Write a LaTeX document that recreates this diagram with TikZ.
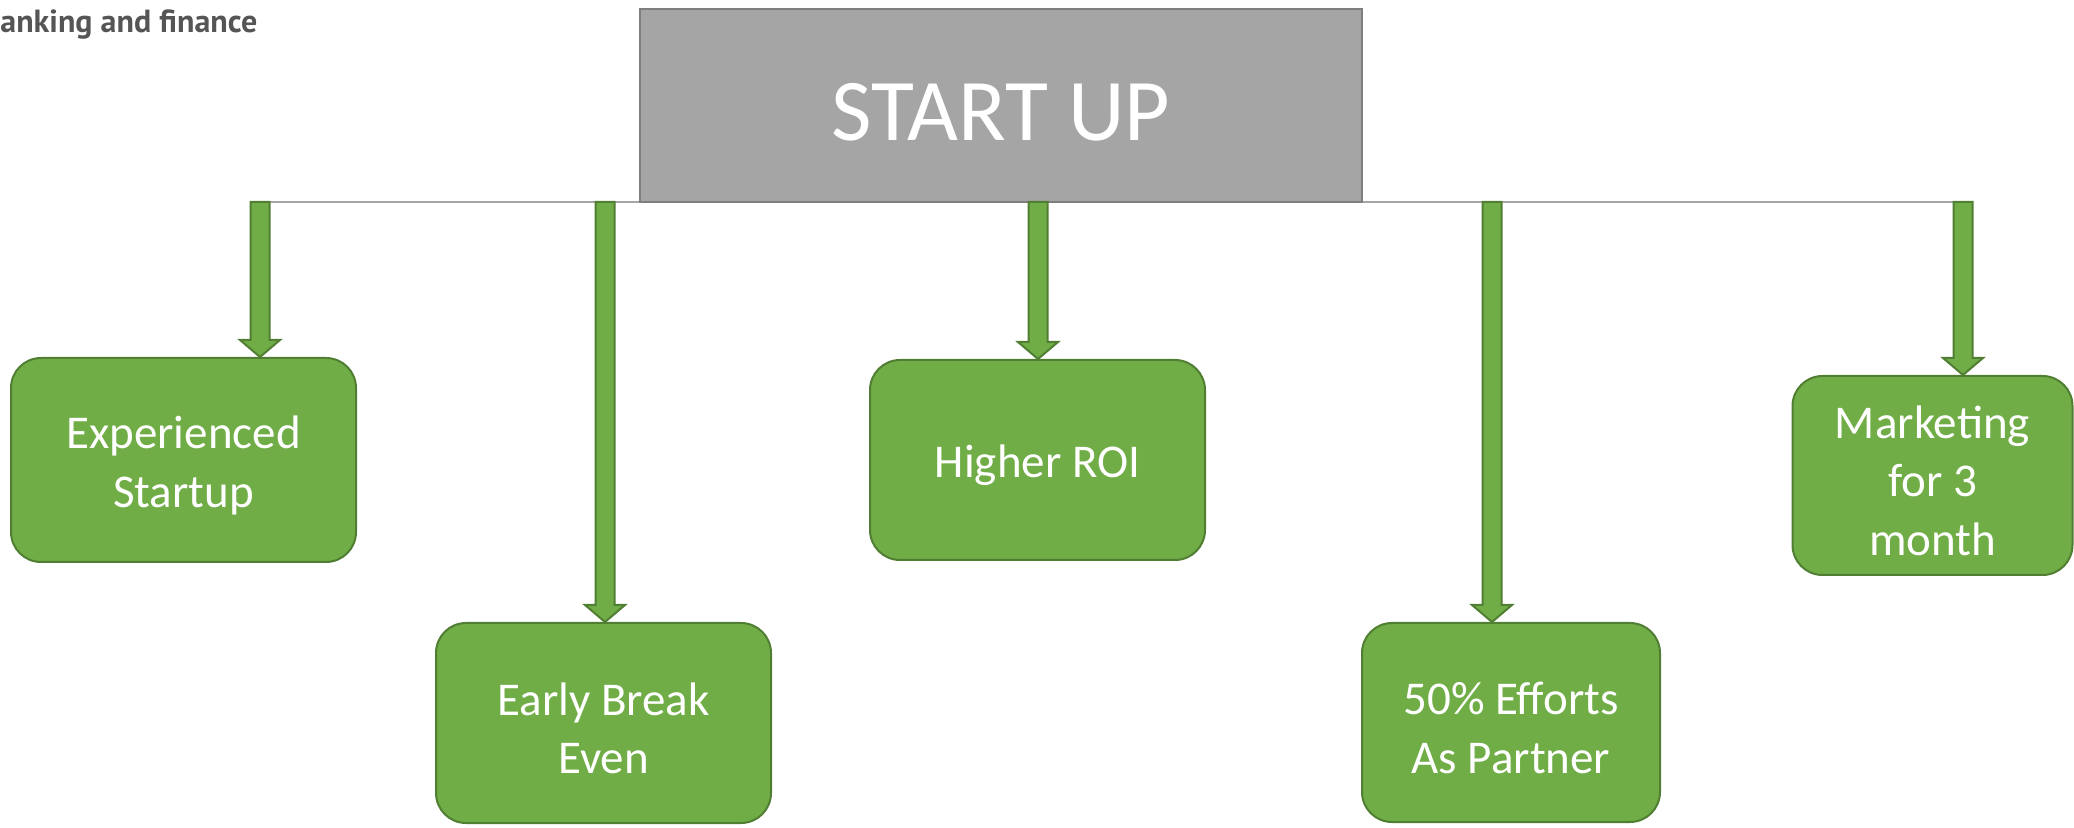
\documentclass[tikz,border=0pt]{standalone}
\usepackage{fontspec}
\setmainfont{Carlito}
\newfontfamily\logofont{PT Sans}
\usetikzlibrary{calc}
\definecolor{hdrfill}{HTML}{A5A5A5}
\definecolor{hdrdraw}{HTML}{7F7F7F}
\definecolor{grn}{HTML}{70AD47}
\definecolor{grndark}{HTML}{507E32}
\definecolor{linegray}{HTML}{A6A6A6}
\definecolor{logogray}{HTML}{555555}
\tikzset{
  hdrbox/.style={draw=hdrdraw, line width=1.2pt, fill=hdrfill,
    minimum width=361pt, minimum height=96.5pt, inner sep=0pt},
  hdrtext/.style={text=white, inner sep=0pt, yshift=-3.4pt,
    font=\fontsize{44}{50}\selectfont},
  gbox/.style={draw=grndark, line width=1pt, fill=grn,
    rounded corners=15pt, inner sep=0pt},
  gtext/.style={text=white, inner sep=0pt, align=center, yshift=-2.6pt,
    font=\fontsize{23.5}{29.3}\selectfont},
  fatarr/.style={draw=grndark, line width=1pt, fill=grn, line join=miter},
  hline/.style={draw=linegray, line width=1pt}
}
\newcommand\fatarrow[2]{%
  \draw[fatarr] ($(#1)+(-9.5,0)$) -- ($(#2)+(-9.5,-17)$) -- ($(#2)+(-20,-17)$)
    -- (#2) -- ($(#2)+(20,-17)$) -- ($(#2)+(9.5,-17)$) -- ($(#1)+(9.5,0)$) -- cycle;}
\begin{document}
\begin{tikzpicture}[x=0.5pt,y=-0.5pt]
\useasboundingbox (0,0) rectangle (2074,828);
% logo text
\node[anchor=base west, inner sep=0pt, text=logogray, font=\logofont\bfseries\fontsize{16}{18}\selectfont] (logo) at (0,33) {anking and finance};
% boxes
\node[gbox, minimum width=172.5pt, minimum height=102pt,
  label={[gtext]center:{Experienced\\Startup}}] (b1) at (183.5,460) {};
\node[gbox, minimum width=167.5pt, minimum height=100pt,
  label={[gtext]center:{Early Break\\Even}}] (b2) at (603.5,723) {};
\node[gbox, minimum width=167.5pt, minimum height=100pt,
  label={[gtext]center:{Higher ROI}}] (b3) at (1037.5,460) {};
\node[gbox, minimum width=149pt, minimum height=99.5pt,
  label={[gtext]center:{50\% Efforts\\As Partner}}] (b4) at (1511,722.5) {};
\node[gbox, minimum width=140pt, minimum height=99.5pt,
  label={[gtext]center:{Marketing\\for 3\\month}}] (b5) at (1932.5,475.5) {};
% arrow start points on the header line
\coordinate (t1) at (260,202);
\coordinate (t2) at (605,202);
\coordinate (t3) at (1038,202);
\coordinate (t4) at (1492,202);
\coordinate (t5) at (1963,202);
\foreach \i in {1,...,5} { \coordinate (e\i) at (t\i |- b\i.north); }
\draw[hline] (t1) -- (t5);
\node[hdrbox, label={[hdrtext]center:START UP}] (hdr) at (1001,105.5) {};
\fatarrow{t1}{e1}
\fatarrow{t2}{e2}
\fatarrow{t3}{e3}
\fatarrow{t4}{e4}
\fatarrow{t5}{e5}
\end{tikzpicture}
\end{document}
